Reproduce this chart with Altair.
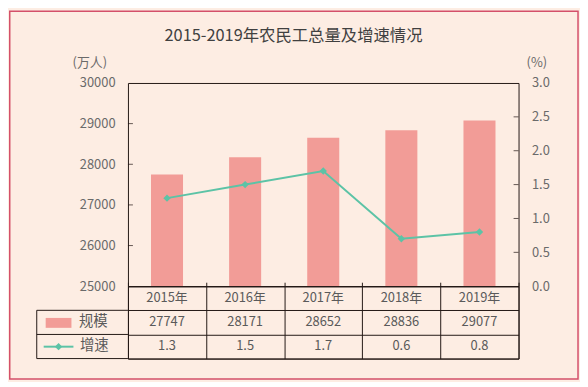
import altair as alt
import pandas as pd

# ---- data ----
years = ["2015年", "2016年", "2017年", "2018年", "2019年"]
scale_vals = [27747, 28171, 28652, 28836, 29077]          # 规模 (万人)
growth_line = [1.3, 1.5, 1.7, 0.7, 0.8]                   # 增速 as drawn on the line (%)
growth_table = [1.3, 1.5, 1.7, 0.6, 0.8]                  # 增速 as printed in the table
row_keys = ["year", "规模", "增速"]
left_axis_vals = [25000, 26000, 27000, 28000, 29000, 30000]
right_axis_vals = [0.0, 0.5, 1.0, 1.5, 2.0, 2.5, 3.0]
left_ticks = [26000, 27000, 28000, 29000]
right_ticks = [0.5, 1.0, 1.5, 2.0, 2.5]
title_text = "2015-2019年农民工总量及增速情况"

# ---- style ----
FONT = "Noto Sans CJK SC"
BG = "#fdede3"
BAR = "#f29c97"
TEAL = "#5cc3a6"
DARK = "#231815"
TXT = "#5a5a5a"
AX = "#6a6a6a"
FRAME = "#d4506a"
W, H = 394, 205
TH = 73

df = pd.DataFrame({"year": years, "scale": scale_vals, "growth": growth_line})

x_top = alt.X("year:N", sort=years, axis=None,
              scale=alt.Scale(paddingInner=0.59, paddingOuter=0.295))

left_axis = alt.Axis(values=left_axis_vals, format="d", domain=False, ticks=False,
                     grid=False, labelPadding=13, labelColor=AX, labelFontSize=13,
                     labelFont=FONT, title="(万人)", titleAngle=0, titleX=-39, titleY=-21,
                     titleAlign="center", titleBaseline="middle", titleFontWeight="normal",
                     titleColor=AX, titleFontSize=13, titleFont=FONT)
right_axis = alt.Axis(orient="right", values=right_axis_vals, format=".1f", domain=False,
                      ticks=False, grid=False, labelPadding=13, labelColor=AX,
                      labelFontSize=13, labelFont=FONT, title="(%)", titleAngle=0,
                      titleX=18, titleY=-21, titleAlign="center", titleBaseline="middle",
                      titleFontWeight="normal", titleColor=AX, titleFontSize=13,
                      titleFont=FONT)

y_left = alt.Y("scale:Q", scale=alt.Scale(domain=[25000, 30000], zero=False, nice=False),
               axis=left_axis)
y_right = alt.Y("growth:Q", scale=alt.Scale(domain=[0, 3], zero=False, nice=False),
                axis=right_axis)

bars = alt.Chart(df).mark_bar(color=BAR, clip=True).encode(x=x_top, y=y_left)
lticks = alt.Chart(pd.DataFrame({"scale": left_ticks})).mark_tick(
    orient="horizontal", size=5, thickness=1, color=DARK).encode(
    y=y_left, x=alt.value(2.5))
line = alt.Chart(df).mark_line(color=TEAL, strokeWidth=2).encode(x=x_top, y=y_right)
pts = alt.Chart(df).mark_point(shape="diamond", filled=True, size=55, color=TEAL,
                               opacity=1).encode(x=x_top, y=y_right)
rticks = alt.Chart(pd.DataFrame({"growth": right_ticks})).mark_tick(
    orient="horizontal", size=5, thickness=1, color=DARK).encode(
    y=y_right, x=alt.value(W - 2.5))

top = alt.layer(alt.layer(bars, lticks), alt.layer(line, pts, rticks)).resolve_scale(
    y="independent").properties(
    width=W, height=H,
    title=alt.Title(title_text, font=FONT, fontSize=16.5, fontWeight="normal",
                    color="#404040", anchor="middle", frame="group", dx=-30, offset=12))

# ---- table ----
recs = []
for i, yr in enumerate(years):
    recs.append({"year": yr, "row": "year", "label": yr})
    recs.append({"year": yr, "row": "规模", "label": str(scale_vals[i])})
    recs.append({"year": yr, "row": "增速", "label": f"{growth_table[i]:.1f}"})
tbl = pd.DataFrame(recs)

x_tbl = alt.X("year:N", sort=years, scale=alt.Scale(paddingInner=0, paddingOuter=0),
              axis=alt.Axis(orient="top", tickBand="extent", grid=True, gridColor=DARK,
                            gridOpacity=1, labels=False, domain=False, ticks=True,
                            tickSize=4, tickColor=DARK, title=None))
y_tbl = alt.Y("row:N", sort=row_keys, scale=alt.Scale(paddingInner=0, paddingOuter=0),
              axis=alt.Axis(tickBand="extent", grid=True, gridColor=DARK, gridOpacity=1,
                            labels=False, ticks=False, domain=False, title=None))

cells = alt.Chart(tbl).mark_text(font=FONT, fontSize=13, color=TXT).encode(
    x=x_tbl, y=y_tbl, text="label:N")

# legend column (left of the table) and outer frame: decoration in pixel space
grid_lines = pd.DataFrame({
    "x1": [-92, -92, -92, -92],
    "x2": [0, 0, 0, -92],
    "y1": [24.33, 48.67, 73, 24.33],
    "y2": [24.33, 48.67, 73, 73],
})
leg_grid = alt.Chart(grid_lines).mark_rule(color=DARK, strokeWidth=1).encode(
    x=alt.X("x1:Q", scale=None), x2="x2:Q",
    y=alt.Y("y1:Q", scale=None), y2="y2:Q")

leg_text = alt.Chart(pd.DataFrame({"row": ["规模", "增速"], "label": ["规模", "增速"],
                                   "px": [-35, -34]})).mark_text(
    font=FONT, fontSize=14.5, color=TXT).encode(
    x=alt.X("px:Q", scale=None), y=y_tbl, text="label:N")

one = pd.DataFrame({"a": [0]})
swatch = alt.Chart(one).mark_rect(color=BAR).encode(
    x=alt.value(-83), x2=alt.value(-57), y=alt.value(32), y2=alt.value(42))
leg_line = alt.Chart(one).mark_rule(color=TEAL, strokeWidth=2).encode(
    x=alt.value(-85), x2=alt.value(-55), y=alt.value(61))
leg_pt = alt.Chart(one).mark_point(shape="diamond", filled=True, size=55, color=TEAL,
                                   opacity=1).encode(x=alt.value(-70), y=alt.value(61))
frame = alt.Chart(one).mark_rect(fill=None, stroke=FRAME, strokeWidth=1.5).encode(
    x=alt.value(-119.25), x2=alt.value(454), y=alt.value(-277.25), y2=alt.value(93.5))

bottom = alt.layer(cells, leg_grid, leg_text, swatch, leg_line, leg_pt, frame).properties(
    width=W, height=TH)

chart = alt.vconcat(top, bottom, spacing=0, bounds="flush").resolve_scale(
    x="independent", y="independent").properties(
    padding=0, background=BG).configure_view(stroke=DARK, strokeWidth=1)

chart.save("out.html", embed_options={"renderer": "svg", "actions": False})
